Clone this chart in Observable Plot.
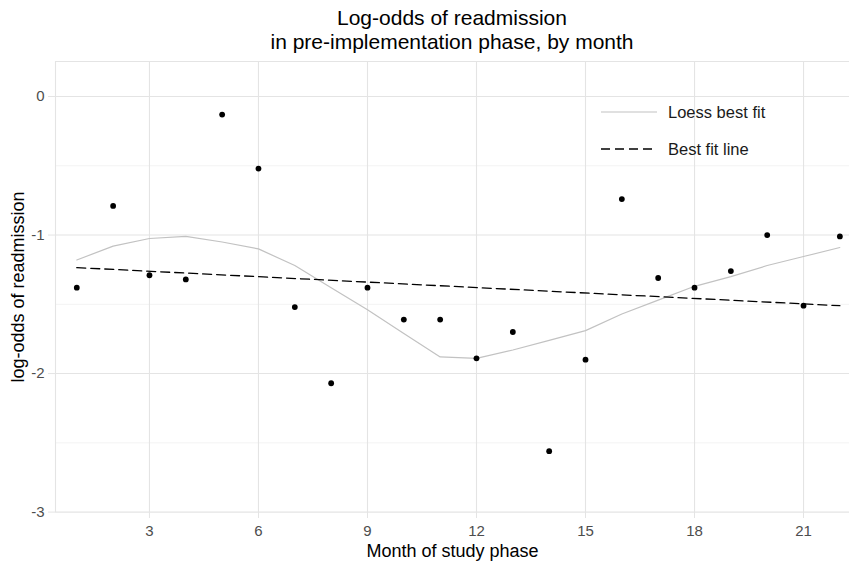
<!DOCTYPE html>
<html><head><meta charset="utf-8">
<script src="https://cdn.jsdelivr.net/npm/d3@7"></script>
<script src="https://cdn.jsdelivr.net/npm/@observablehq/plot@0.6"></script>
<style>
body{margin:0;background:#fff;font-family:"Liberation Sans",Arial,sans-serif;}
#wrap{position:relative;width:849px;height:567px;overflow:hidden;}
#title{box-sizing:border-box;width:849px;padding-left:55px;padding-top:6px;height:54px;text-align:center;font-size:21px;line-height:24px;color:#000;}
.leg{position:absolute;left:601px;height:24px;display:flex;align-items:center;font-size:16.5px;color:#1a1a1a;}
.leg svg{margin-right:11px;}
#chart svg{display:block;}
</style></head>
<body>
<div id="wrap">
<div id="title">Log-odds of readmission<br>in pre-implementation phase, by month</div>
<div id="chart"></div>
<div class="leg" style="top:100px"><svg width="56" height="4"><line x1="0" x2="56" y1="2" y2="2" stroke="#c2c2c2" stroke-width="1.2"/></svg>Loess best fit</div>
<div class="leg" style="top:137px"><svg width="56" height="4"><line x1="0" x2="56" y1="2" y2="2" stroke="#000" stroke-width="1.3" stroke-dasharray="9,5"/></svg>Best fit line</div>
</div>
<script>
const months = [1,2,3,4,5,6,7,8,9,10,11,12,13,14,15,16,17,18,19,20,21,22];
const logOdds = [-1.38,-0.79,-1.29,-1.32,-0.13,-0.52,-1.52,-2.07,-1.38,-1.61,-1.61,-1.89,-1.70,-2.56,-1.90,-0.74,-1.31,-1.38,-1.26,-1.00,-1.51,-1.01];
const loessFit = [-1.18,-1.08,-1.025,-1.01,-1.05,-1.10,-1.22,-1.38,-1.54,-1.71,-1.88,-1.89,-1.83,-1.76,-1.69,-1.57,-1.47,-1.37,-1.30,-1.22,-1.155,-1.09];
const fitMonths = [1,22];
const fitValues = [-1.235,-1.51];
const xTicks = [3,6,9,12,15,18,21];
const yTicks = [-3,-2,-1,0];
const yMinor = [-2.5,-1.5,-0.5];
const xDomain = [0.414,22.265];
const yDomain = [-3.003,0.253];

const points = months.map((m,i)=>({month:m, value:logOdds[i]}));
const loess = months.map((m,i)=>({month:m, value:loessFit[i]}));
const fit = fitMonths.map((m,i)=>({month:m, value:fitValues[i]}));

const grid = "#e4e4e4";
const chart = Plot.plot({
  width:849, height:513,
  marginTop:7, marginBottom:55, marginLeft:55, marginRight:0,
  style:{fontFamily:"'Liberation Sans', Arial, sans-serif", background:"transparent"},
  x:{domain:xDomain},
  y:{domain:yDomain},
  marks:[
    Plot.ruleY(yMinor,{stroke:"#f3f3f3", strokeWidth:1}),
    Plot.ruleY(yTicks,{stroke:grid, strokeWidth:1.1}),
    Plot.ruleX(xTicks,{stroke:grid, strokeWidth:1.1}),
    Plot.ruleY([yDomain[1]],{stroke:grid, strokeWidth:1.1}),
    Plot.ruleX([xDomain[0]],{stroke:grid, strokeWidth:1.1}),
    Plot.axisX({ticks:xTicks, tickSize:6, tickPadding:7, stroke:grid, color:"#4d4d4d", fill:"#4d4d4d", fontSize:15, label:null, tickFormat:d=>String(d)}),
    Plot.axisY({ticks:yTicks, tickSize:7, tickPadding:4, stroke:grid, color:"#4d4d4d", fill:"#4d4d4d", fontSize:15, label:null, tickFormat:d=>String(d)}),
    Plot.line(loess,{x:"month", y:"value", stroke:"#c2c2c2", strokeWidth:1.2}),
    Plot.line(fit,{x:"month", y:"value", stroke:"#000", strokeWidth:1.3, strokeDasharray:"9,5"}),
    Plot.dot(points,{x:"month", y:"value", r:2.9, fill:"#000", stroke:null}),
    Plot.text(["Month of study phase"],{frameAnchor:"bottom", lineAnchor:"middle", textAnchor:"middle", dy:39, fontSize:18, fill:"#000"}),
    Plot.text(["log-odds of readmission"],{frameAnchor:"left", lineAnchor:"middle", textAnchor:"middle", rotate:-90, dx:-37, fontSize:18, fill:"#000"})
  ]
});
document.getElementById("chart").appendChild(chart);
</script>
</body></html>
